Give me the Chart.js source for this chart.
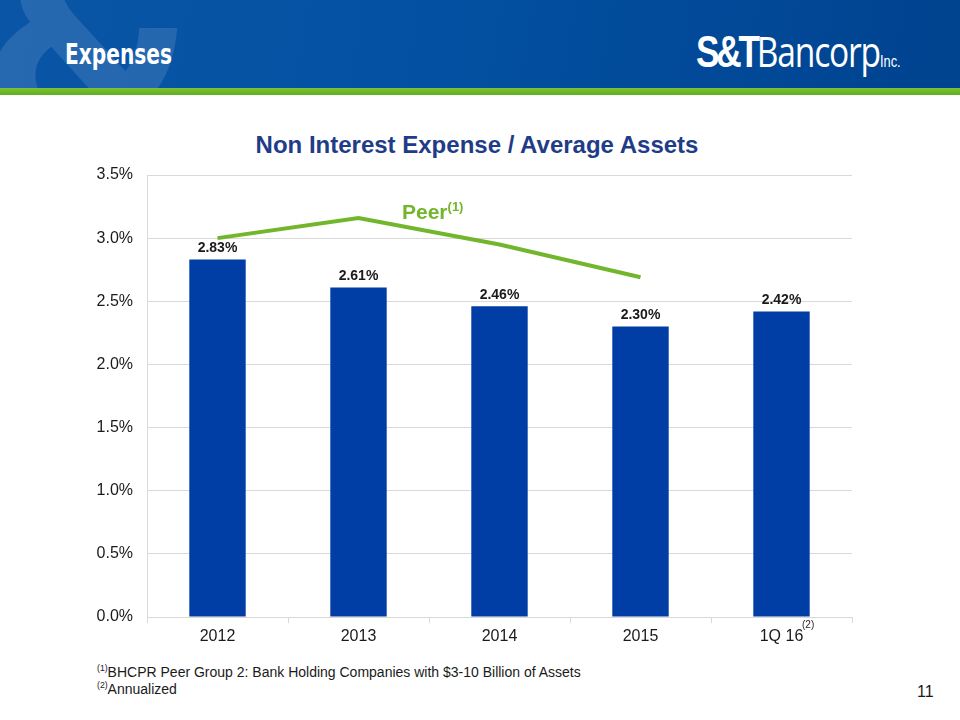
<!DOCTYPE html>
<html>
<head>
<meta charset="utf-8">
<script src="https://cdn.jsdelivr.net/npm/chart.js@4"></script>
<style>
  body { margin: 0; width: 960px; height: 720px; position: relative; background: #fff; font-family: Arial, "Liberation Sans", sans-serif; overflow: hidden; }
  #header { position: absolute; left: 0; top: 0; width: 960px; height: 88px; overflow: hidden;
    background: linear-gradient(100deg, #0a55a6 0%, #0350a2 45%, #00438f 100%); }
  #strip { position: absolute; left: 0; top: 88px; width: 960px; height: 7px; background: linear-gradient(180deg, #7cc232, #5fae22); }
  #amp { position: absolute; left: -22px; top: -95px; font: bold 250px "DejaVu Sans", Arial, sans-serif; color: rgba(255,255,255,0.12); }
  #pagetitle { position: absolute; left: 65px; top: 38px; font: bold 28px "DejaVu Sans", Arial, sans-serif; color: #fff;
    transform: scaleX(0.72); transform-origin: left top; }
  #logo { position: absolute; left: 696px; top: 22px; color: #fff; white-space: nowrap; transform: scaleX(0.8); transform-origin: left top; }
  #logo .st { font: bold 44px Arial, sans-serif; letter-spacing: -4px; }
  #logo .bn { font: 42px "Open Sans", Arial, sans-serif; letter-spacing: -1.5px; }
  #logo .inc { font: 16px Arial, sans-serif; }
  #charttitle { position: absolute; left: 0; width: 954px; top: 131px; text-align: center; font: bold 24px Arial, "Liberation Sans", sans-serif; color: #1f3c88; }
  #chartbox { position: absolute; left: 0; top: 120px; width: 960px; height: 540px; }
  #peer { position: absolute; left: 402px; top: 199px; font: bold 21px Arial, sans-serif; color: #72b62c; }
  #peer sup, #q16 sup, .fn sup { font-size: 0.62em; }
  #q16 { position: absolute; left: 802px; top: 619px; font: 10px Arial, sans-serif; color: #262626; }
  .fn { position: absolute; left: 97px; font: 14px Arial, sans-serif; color: #1a1a1a; }
  #pgnum { position: absolute; left: 917px; top: 683px; font: 16px Arial, sans-serif; color: #1a1a1a; }
</style>
</head>
<body>
<div id="header"><div id="amp">&amp;</div><div id="pagetitle">Expenses</div>
  <div id="logo"><span class="st">S&amp;T</span><span class="bn">Bancorp</span><span class="inc">Inc.</span></div>
</div>
<div id="strip"></div>
<div id="charttitle">Non Interest Expense / Average Assets</div>
<div id="chartbox"><canvas id="chart"></canvas></div>
<div id="peer">Peer<sup>(1)</sup></div>
<div id="q16">(2)</div>
<div class="fn" style="top:663px"><sup>(1)</sup>BHCPR Peer Group 2: Bank Holding Companies with $3-10 Billion of Assets</div>
<div class="fn" style="top:680px"><sup>(2)</sup>Annualized</div>
<div id="pgnum">11</div>

<script>
const categories = ["2012", "2013", "2014", "2015", "1Q 16"];
const stbValues = [2.83, 2.61, 2.46, 2.30, 2.42];
const peerValues = [3.00, 3.16, 2.95, 2.69, null];
const yTicks = [0, 0.5, 1.0, 1.5, 2.0, 2.5, 3.0, 3.5];

const barLabels = {
  id: "barLabels",
  afterDatasetsDraw(chart) {
    const ctx = chart.ctx;
    const meta = chart.getDatasetMeta(0);
    ctx.save();
    ctx.font = "bold 14px Arial, sans-serif";
    ctx.fillStyle = "#1a1a1a";
    ctx.textAlign = "center";
    ctx.textBaseline = "bottom";
    meta.data.forEach((bar, i) => {
      ctx.fillText(stbValues[i].toFixed(2) + "%", bar.x, bar.y - 4);
    });
    ctx.restore();
  }
};

new Chart(document.getElementById("chart"), {
  data: {
    labels: categories,
    datasets: [
      {
        type: "bar",
        data: stbValues,
        backgroundColor: "#003da5",
        barPercentage: 0.4,
        categoryPercentage: 1.0,
        order: 2
      },
      {
        type: "line",
        data: peerValues,
        borderColor: "#72b62c",
        borderWidth: 4,
        pointRadius: 0,
        tension: 0,
        spanGaps: false,
        order: 1
      }
    ]
  },
  options: {
    responsive: true,
    maintainAspectRatio: false,
    animation: false,
    layout: { padding: { left: 0, right: 108, top: 55, bottom: 0 } },
    plugins: { legend: { display: false }, tooltip: { enabled: false } },
    scales: {
      x: {
        offset: true,
        afterFit: s => { s.height = 43; },
        grid: { offset: true, drawOnChartArea: false, drawTicks: true, tickLength: 6, color: "#d9d9d9" },
        border: { color: "#d9d9d9" },
        ticks: { color: "#1a1a1a", font: { size: 16, family: "Arial" }, padding: 4 }
      },
      y: {
        min: 0,
        max: 3.5,
        afterFit: s => { s.width = 147; },
        afterBuildTicks: s => { s.ticks = yTicks.map(v => ({ value: v })); },
        grid: { color: "#d9d9d9", drawTicks: false },
        border: { color: "#d9d9d9" },
        ticks: {
          color: "#1a1a1a",
          font: { size: 16, family: "Arial" },
          padding: 14,
          callback: v => v.toFixed(1) + "%"
        }
      }
    }
  },
  plugins: [barLabels]
});
</script>
</body>
</html>
